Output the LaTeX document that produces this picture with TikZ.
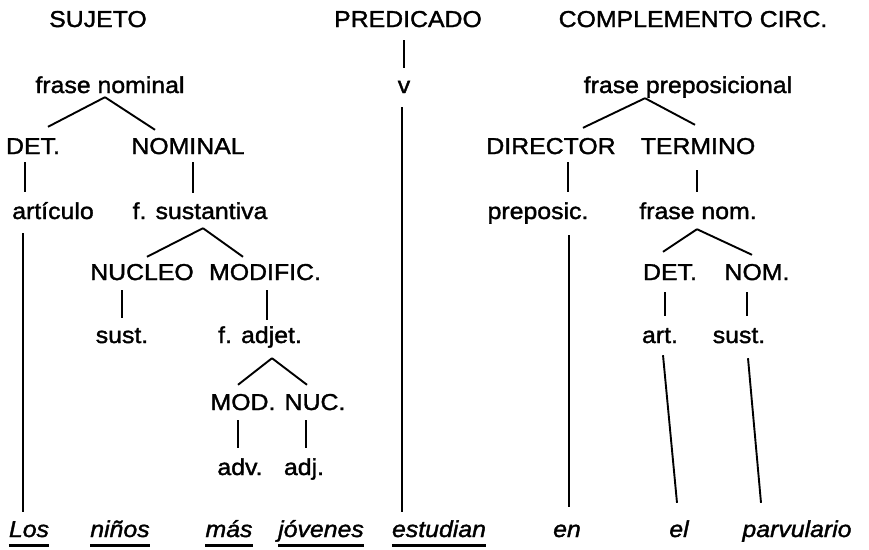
\documentclass[tikz,border=0pt]{standalone}
\usepackage{fontspec}
\setmainfont{Liberation Sans}[FakeStretch=1.08,FakeBold=1.5]
\usetikzlibrary{calc}

\begin{document}
\begin{tikzpicture}[x=1pt,y=-1pt,
    lbl/.style={font=\fontsize{23}{26}\selectfont, inner sep=0pt,
                text height=14pt, text depth=4pt, anchor=base},
    word/.style={lbl, font=\fontsize{23}{26}\selectfont\itshape},
    branch/.style={line width=1.9pt},
    uline/.style={line width=2.6pt}]
    \useasboundingbox (0,0) rectangle (869,549);

    % The three heads
    \node[lbl] (suj) at (98,27) {SUJETO};
    \node[lbl] (pred) at (408,27) {PREDICADO};
    \node[lbl] (comp) at (693,27) {COMPLEMENTO CIRC.};

    % Subject
    \node[lbl] (fn) at (110,93) {frase nominal};
    \node[lbl] (det) at (33,154) {DET.};
    \node[lbl] (nominal) at (188,154) {NOMINAL};
    \node[lbl] (artic) at (53,219) {artículo};
    \node[lbl] (fsust) at (200,219) {f. sustantiva};
    \node[lbl] (nucleo) at (142,280) {NUCLEO};
    \node[lbl] (modific) at (265,280) {MODIFIC.};
    \node[lbl] (sust) at (122,343) {sust.};
    \node[lbl] (fadj) at (260,343) {f. adjet.};
    \node[lbl] (mod) at (243,410) {MOD.};
    \node[lbl] (nuc) at (315,410) {NUC.};
    \node[lbl] (adv) at (240,475) {adv.};
    \node[lbl] (adj) at (304,475) {adj.};

    % Predicate
    \node[lbl] (v) at (404,93) {v};

    % Complement
    \node[lbl] (fp) at (688,93) {frase preposicional};
    \node[lbl] (dir) at (551,154) {DIRECTOR};
    \node[lbl] (term) at (698,154) {TERMINO};
    \node[lbl] (prep) at (538,219) {preposic.};
    \node[lbl] (fnom) at (698,219) {frase nom.};
    \node[lbl] (det2) at (670,280) {DET.};
    \node[lbl] (nom) at (757,280) {NOM.};
    \node[lbl] (art) at (660,343) {art.};
    \node[lbl] (sust2) at (739,343) {sust.};

    % The sentence
    \node[word] (los) at (29,537) {Los};
    \node[word] (ninos) at (120,537) {niños};
    \node[word] (mas) at (229,537) {más};
    \node[word] (jov) at (321,537) {jóvenes};
    \node[word] (est) at (439,537) {estudian};
    \node[word] (en) at (567,537) {en};
    \node[word] (el) at (679,537) {el};
    \node[word] (parv) at (797,537) {parvulario};

    % Underlines
    \foreach \w in {los,ninos,mas,jov,est}
        \draw[uline] ($(\w.south west)+(0,4)$) -- ($(\w.south east)+(0,4)$);

    % Branches of the subject
    \draw[branch] ($(fn.south)+(-5,0)$) -- ($(det.north)+(15,-13)$);
    \draw[branch] ($(fn.south)+(-5,0)$) -- ($(nominal.north)+(-33,-10)$);
    \draw[branch] ($(det.south)+(-8,4)$) -- ($(artic.north)+(-28,-13)$);
    \draw[branch] ($(nominal.south)+(5,4)$) -- ($(fsust.north)+(-7,-12)$);
    \draw[branch] ($(artic.south)+(-30,10)$) -- ($(los.north)+(-6,-11)$);
    \draw[branch] ($(fsust.south)+(3,5)$) -- ($(nucleo.north)+(5,-9)$);
    \draw[branch] ($(fsust.south)+(3,5)$) -- ($(modific.north)+(-22,-9)$);
    \draw[branch] ($(nucleo.south)+(-20,6)$) -- ($(sust.north)+(0,-11)$);
    \draw[branch] ($(modific.south)+(2,6)$) -- ($(fadj.north)+(7,-9)$);
    \draw[branch] ($(fadj.south)+(12,11)$) -- ($(mod.north)+(-5,-11)$);
    \draw[branch] ($(fadj.south)+(12,11)$) -- ($(nuc.north)+(-8,-11)$);
    \draw[branch] ($(mod.south)+(-5,6)$) -- ($(adv.north)+(-2,-13)$);
    \draw[branch] ($(nuc.south)+(-9,6)$) -- ($(adj.north)+(2,-13)$);

    % Branches of the predicate
    \draw[branch] ($(pred.south)+(-4,9)$) -- ($(v.north)+(0,-11)$);
    \draw[branch] ($(v.south)+(-2,10)$) -- ($(est.north)+(-37,-11)$);

    % Branches of the complement
    \draw[branch] ($(fp.south)+(-43,1)$) -- ($(dir.north)+(32,-12)$);
    \draw[branch] ($(fp.south)+(-43,1)$) -- ($(term.north)+(-3,-15)$);
    \draw[branch] ($(dir.south)+(17,4)$) -- ($(prep.north)+(30,-13)$);
    \draw[branch] ($(term.south)+(-1,12)$) -- ($(fnom.north)+(-1,-13)$);
    \draw[branch] ($(prep.south)+(31,12)$) -- ($(en.north)+(2,-16)$);
    \draw[branch] ($(fnom.south)+(-1,6)$) -- ($(det2.north)+(-7,-14)$);
    \draw[branch] ($(fnom.south)+(-1,6)$) -- ($(nom.north)+(-5,-11)$);
    \draw[branch] ($(det2.south)+(-5,8)$) -- ($(art.north)+(5,-13)$);
    \draw[branch] ($(nom.south)+(-10,8)$) -- ($(sust2.north)+(8,-13)$);
    \draw[branch] ($(art.south)+(3,8)$) -- ($(el.north)+(-2,-20)$);
    \draw[branch] ($(sust2.south)+(9,11)$) -- ($(parv.north)+(-36,-20)$);
\end{tikzpicture}
\end{document}
